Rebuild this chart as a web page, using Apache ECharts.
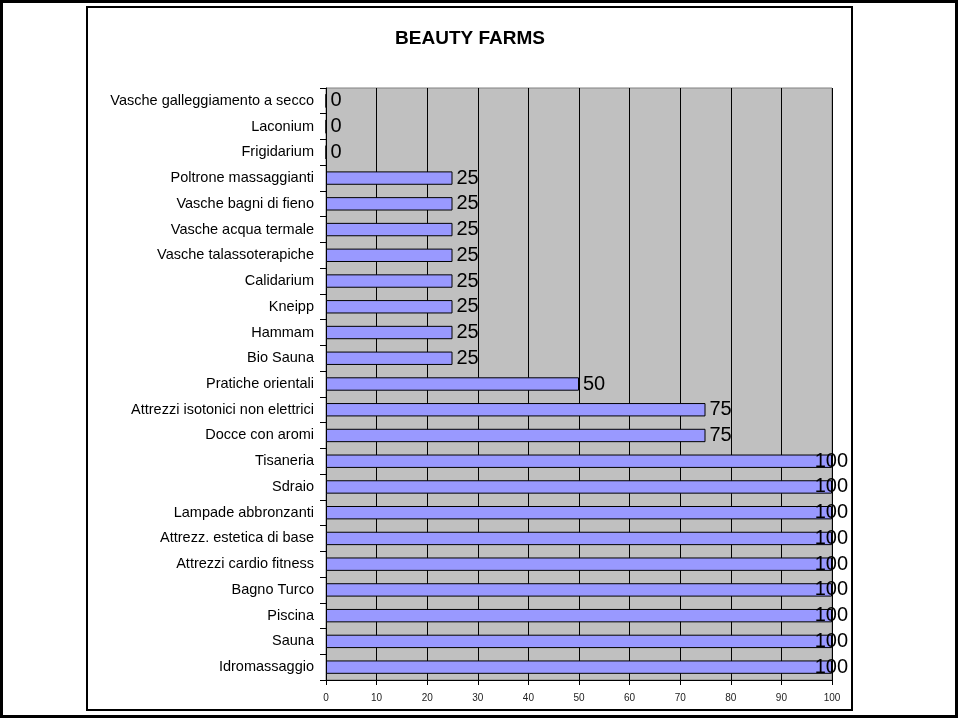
<!DOCTYPE html>
<html>
<head>
<meta charset="utf-8">
<script src="https://cdn.jsdelivr.net/npm/echarts@6/dist/echarts.min.js"></script>
<style>
  html, body { margin: 0; padding: 0; background: #fff; }
  #main { width: 958px; height: 720px; }
</style>
</head>
<body>
<div id="main"></div>
<script>
// categorie (dall'alto verso il basso)
var categorie = [
    'Vasche galleggiamento a secco', 'Laconium', 'Frigidarium', 'Poltrone massaggianti',
    'Vasche bagni di fieno', 'Vasche acqua termale', 'Vasche talassoterapiche', 'Calidarium',
    'Kneipp', 'Hammam', 'Bio Sauna', 'Pratiche orientali',
    'Attrezzi isotonici non elettrici', 'Docce con aromi', 'Tisaneria', 'Sdraio',
    'Lampade abbronzanti', 'Attrezz. estetica di base', 'Attrezzi cardio fitness', 'Bagno Turco',
    'Piscina', 'Sauna', 'Idromassaggio'
];
// valori percentuali
var valori = [0, 0, 0, 25, 25, 25, 25, 25, 25, 25, 25, 50, 75, 75, 100, 100, 100, 100, 100, 100, 100, 100, 100];
var titolo = 'BEAUTY FARMS';

var myChart = echarts.init(document.getElementById('main'));

// le etichette a 100 vengono spostate dentro il riquadro (come in Excel)
var datiSerie = valori.map(function (v) {
    if (v >= 100) {
        return { value: v, label: { position: 'insideRight', distance: 0, offset: [16, 0] } };
    }
    return v;
});

var font = '"Liberation Sans", Arial, sans-serif';

var option = {
    animation: false,
    grid: {
        left: 326,
        right: 126,
        top: 88,
        bottom: 40,
        show: true,
        backgroundColor: '#c0c0c0',
        borderColor: '#808080',
        borderWidth: 1
    },
    xAxis: {
        type: 'value',
        min: 0,
        max: 100,
        interval: 10,
        axisLine: { show: true, lineStyle: { color: '#000', width: 1 } },
        axisTick: { show: true, length: 5, lineStyle: { color: '#000' } },
        axisLabel: { fontFamily: font, fontSize: 10, color: '#222', margin: 13 },
        splitLine: { show: true, lineStyle: { color: '#000', width: 1 } }
    },
    yAxis: {
        type: 'category',
        inverse: true,
        data: categorie,
        axisLine: { show: true, lineStyle: { color: '#000', width: 1 } },
        axisTick: { show: true, length: 6, alignWithLabel: false, lineStyle: { color: '#000' } },
        axisLabel: { fontFamily: font, fontSize: 14.5, color: '#000', margin: 12, interval: 0 },
        splitLine: { show: false }
    },
    series: [{
        type: 'bar',
        data: datiSerie,
        barWidth: '52%',
        itemStyle: { color: '#9999ff', borderColor: '#000', borderWidth: 1 },
        label: {
            show: true,
            position: 'right',
            distance: 4,
            fontFamily: font,
            fontSize: 20,
            color: '#000'
        }
    }],
    graphic: [
        {
            type: 'text', left: null, x: 470, y: 39, z: 100,
            style: { text: titolo, textAlign: 'center', textVerticalAlign: 'middle', fill: '#000',
                     font: 'bold 19px "Liberation Sans", Arial, sans-serif' }
        },
        { type: 'rect', shape: { x: 87, y: 7, width: 765, height: 703 }, style: { fill: null, stroke: '#000', lineWidth: 2 }, z: 100 },
        { type: 'rect', shape: { x: 1.5, y: 1.5, width: 955, height: 715 }, style: { fill: null, stroke: '#000', lineWidth: 3 }, z: 100 }
    ]
};

myChart.setOption(option);
window.onresize = myChart.resize;
</script>
</body>
</html>
